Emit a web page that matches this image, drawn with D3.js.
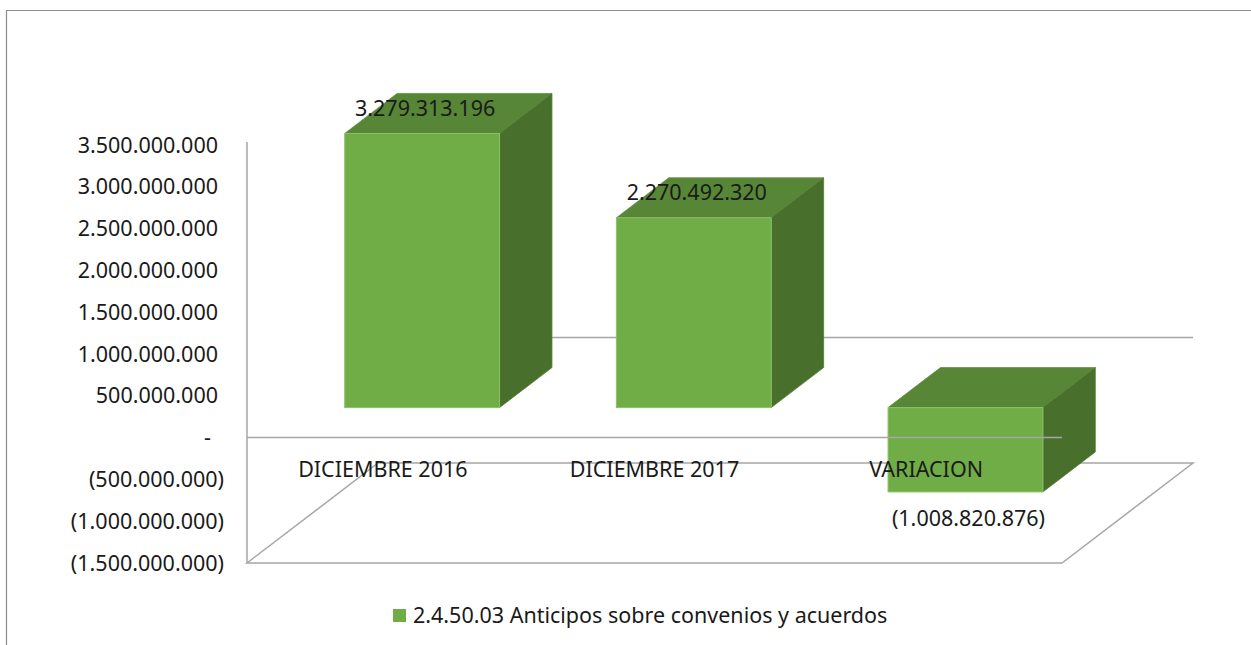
<!DOCTYPE html>
<html>
<head>
<meta charset="utf-8">
<script src="https://cdn.jsdelivr.net/npm/d3@7"></script>
<style>
	html, body { margin: 0; padding: 0; background: #fff; }
	text { font-family: "Noto Sans", "Open Sans", sans-serif; fill: #1a1a1a; font-size: 21.5px; }
</style>
</head>
<body>
<div id="main"></div>
<script>
"use strict";

// data
var categories = ["DICIEMBRE 2016", "DICIEMBRE 2017", "VARIACION"];
var values = [3279313196, 2270492320, -1008820876];
var valueLabels = ["3.279.313.196", "2.270.492.320", "(1.008.820.876)"];
var tickValues = [3500000000, 3000000000, 2500000000, 2000000000, 1500000000, 1000000000, 500000000, 0, -500000000, -1000000000, -1500000000];
var seriesName = "2.4.50.03 Anticipos sobre convenios y acuerdos";

var width = 1251, height = 645;

var svg = d3.select("#main").append("svg")
	.attr("width", width).attr("height", height);

// chart frame (only top and left edges show)
svg.append("path")
	.attr("d", "M6.5," + height + "V10.5H" + width)
	.attr("fill", "none").attr("stroke", "#8c8c8c").attr("stroke-width", 1.2);

var x = d3.scaleBand().domain(categories).range([247, 1062])
	.paddingInner(0.43).paddingOuter(0.215);
var y = d3.scaleLinear().domain([-1500000000, 3500000000]).range([563, 145]);

// depth of the 3d box: full floor depth, and where the bars sit in it
var depth = {dx: 131, dy: -100};
function off(f) { return [depth.dx * f, depth.dy * f]; }
var barFront = off(0.3), barBack = off(0.7);

var grid = "#a6a6a6";
var x0 = x.range()[0], x1 = x.range()[1];
var yMin = y(y.domain()[0]), yZero = y(0);
var full = off(1);

// floor parallelogram
svg.append("path")
	.attr("d", "M" + x0 + "," + yMin + "L" + x1 + "," + yMin +
		"L" + (x1 + full[0]) + "," + (yMin + full[1]) +
		"L" + (x0 + full[0]) + "," + (yMin + full[1]) + "Z")
	.attr("fill", "none").attr("stroke", grid).attr("stroke-width", 1.5);

// zero line on the back wall
svg.append("line")
	.attr("x1", x0 + full[0]).attr("x2", x1 + full[0])
	.attr("y1", yZero + full[1]).attr("y2", yZero + full[1])
	.attr("stroke", grid).attr("stroke-width", 1.5);

// vertical axis line
svg.append("line")
	.attr("x1", x0).attr("x2", x0)
	.attr("y1", y(3500000000) - 3).attr("y2", yMin)
	.attr("stroke", grid).attr("stroke-width", 1.5);

// bars
var bars = svg.append("g").selectAll("g").data(values).enter().append("g");
bars.each(function(v, i) {
	var g = d3.select(this);
	var l = x(categories[i]) + barFront[0], r = l + x.bandwidth();
	var yt = Math.min(y(v), yZero) + barFront[1];
	var yb = Math.max(y(v), yZero) + barFront[1];
	var ddx = barBack[0] - barFront[0], ddy = barBack[1] - barFront[1];
	// top face
	g.append("path")
		.attr("d", "M" + l + "," + yt + "L" + (l + ddx) + "," + (yt + ddy) +
			"L" + (r + ddx) + "," + (yt + ddy) + "L" + r + "," + yt + "Z")
		.attr("fill", "#578637").attr("stroke", "#5f9140").attr("stroke-width", 0.8);
	// side face
	g.append("path")
		.attr("d", "M" + r + "," + yt + "L" + (r + ddx) + "," + (yt + ddy) +
			"L" + (r + ddx) + "," + (yb + ddy) + "L" + r + "," + yb + "Z")
		.attr("fill", "#486f2b").attr("stroke", "#527d32").attr("stroke-width", 0.8);
	// front face
	g.append("rect")
		.attr("x", l).attr("y", yt).attr("width", r - l).attr("height", yb - yt)
		.attr("fill", "#70ad47").attr("stroke", "#8cc168").attr("stroke-width", 1);
});

// zero line on the front plane, drawn over the bars
svg.append("line")
	.attr("x1", x0).attr("x2", x1)
	.attr("y1", yZero).attr("y2", yZero)
	.attr("stroke", grid).attr("stroke-width", 1.5);

// y axis labels
svg.append("g").selectAll("text").data(tickValues).enter().append("text")
	.attr("x", function(d) { return d < 0 ? 224 : (d === 0 ? 211 : 218); })
	.attr("y", function(d) { return y(d); })
	.attr("dy", "0.35em")
	.attr("text-anchor", "end")
	.text(function(d) {
		if (d === 0) return "-";
		var s = d3.format(",")(Math.abs(d)).replace(/,/g, ".");
		return d < 0 ? "(" + s + ")" : s;
	});

// category labels
svg.append("g").selectAll("text").data(categories).enter().append("text")
	.attr("x", function(d) { return x(d) + x.bandwidth() / 2; })
	.attr("y", yZero + 32)
	.attr("dy", "0.35em")
	.attr("text-anchor", "middle")
	.text(function(d) { return d; });

// data labels
svg.append("g").selectAll("text").data(values).enter().append("text")
	.attr("x", function(d, i) { return x(categories[i]) + x.bandwidth() / 2 + barFront[0] + 3; })
	.attr("y", function(d) { return y(d) + barFront[1] + (d < 0 ? 27 : -25); })
	.attr("dy", "0.35em")
	.attr("text-anchor", "middle")
	.text(function(d, i) { return valueLabels[i]; });

// legend
var legend = svg.append("g").attr("transform", "translate(393,609)");
legend.append("rect").attr("width", 13).attr("height", 13).attr("fill", "#70ad47");
legend.append("text").attr("x", 20).attr("y", 6.5).attr("dy", "0.35em")
	.text(seriesName);
</script>
</body>
</html>
